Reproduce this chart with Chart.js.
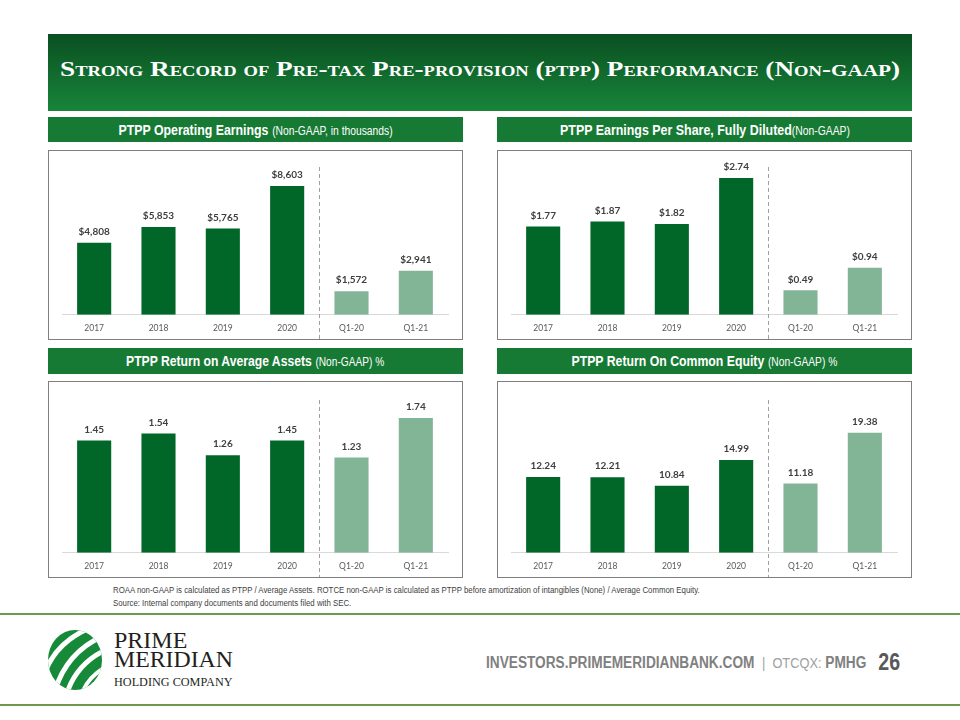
<!DOCTYPE html>
<html>
<head>
<meta charset="utf-8">
<script src="https://cdn.jsdelivr.net/npm/chart.js@4.4.0/dist/chart.umd.min.js"></script>
<style>
  body { margin: 0; width: 960px; height: 720px; background: #fff; position: relative; overflow: hidden; font-family: "Liberation Sans", Arial, sans-serif; }
  .abs { position: absolute; }
  .fit { display: inline-block; white-space: nowrap; }
  #title { left: 48px; top: 34px; width: 864px; height: 77px; background: linear-gradient(#0a4f21, #18853a); }
  #ttl { position: absolute; left: 12px; top: 22px; color: #fff; font-family: "Liberation Serif", serif; font-weight: bold; font-size: 22px; font-variant: small-caps; transform-origin: left center; }
  .sm { font-size: 0.78em; }
  .head { background: #177a34; color: #fff; text-align: center; white-space: nowrap; }
  .head .fit { transform-origin: center center; }
  .head b { font-size: 15px; }
  .head span span { font-size: 12.5px; }
  .box { border: 1px solid #7f7f7f; }
  .box div { position: relative; width: 100%; height: 100%; }
  #note { left: 113px; top: 584px; font-size: 8.5px; color: #404040; line-height: 13px; transform-origin: left top; }
  .rule { left: 0; width: 960px; height: 2px; background: #6b9a4c; }
  #foot { right: 60px; top: 649px; font-size: 16px; color: #808080; transform-origin: right center; }
  #foot b { font-weight: bold; }
  #foot .b { color: #a0a0a0; font-size: 15px; }
  #foot .n { font-size: 23px; font-weight: bold; color: #595959; margin-left: 14px; vertical-align: -2px; }
  .lg { left: 114px; font-family: "Liberation Serif", serif; color: #231f20; line-height: 1; transform-origin: left center; }
</style>
</head>
<body>
<div id="title" class="abs"><span class="fit" id="ttl">Strong Record of Pre-tax Pre-provision (ptpp) Performance (Non-<span class="sm">GAAP</span>)</span></div>

<div class="abs head" style="left:48px;top:117px;width:415px;height:25px;line-height:25px;"><span class="fit" data-w="274"><b>PTPP Operating Earnings</b> <span>(Non-GAAP, in thousands)</span></span></div>
<div class="abs head" style="left:497px;top:117px;width:415px;height:25px;line-height:25px;"><span class="fit" data-w="290"><b>PTPP Earnings Per Share, Fully Diluted</b><span>(Non-GAAP)</span></span></div>
<div class="abs head" style="left:48px;top:348px;width:415px;height:26px;line-height:26px;"><span class="fit" data-w="258"><b>PTPP Return on Average Assets</b> <span>(Non-GAAP) %</span></span></div>
<div class="abs head" style="left:497px;top:348px;width:415px;height:26px;line-height:26px;"><span class="fit" data-w="266"><b>PTPP Return On Common Equity</b> <span>(Non-GAAP) %</span></span></div>

<div class="abs box" style="left:48px;top:150px;width:413px;height:188px;"><div><canvas id="c1"></canvas></div></div>
<div class="abs box" style="left:497px;top:150px;width:413px;height:188px;"><div><canvas id="c2"></canvas></div></div>
<div class="abs box" style="left:48px;top:381px;width:413px;height:195px;"><div><canvas id="c3"></canvas></div></div>
<div class="abs box" style="left:497px;top:381px;width:413px;height:195px;"><div><canvas id="c4"></canvas></div></div>

<div id="note" class="abs fit">ROAA non-GAAP is calculated as PTPP / Average Assets. ROTCE non-GAAP is calculated as PTPP before amortization of intangibles (None) / Average Common Equity.<br>Source: Internal company documents and documents filed with SEC.</div>

<div class="abs rule" style="top:613px;"></div>
<div class="abs rule" style="top:704px;"></div>

<svg class="abs" style="left:44px;top:628px;" width="62" height="64" viewBox="0 0 62 64">
  <defs><clipPath id="globe"><ellipse cx="31" cy="32" rx="27" ry="30"/></clipPath></defs>
  <g clip-path="url(#globe)">
    <rect x="0" y="0" width="62" height="64" fill="#178a3a"/>
    <path d="M10 66 Q22 22 64 6" stroke="#fff" stroke-width="5" fill="none"/>
    <path d="M22 68 Q32 34 66 20" stroke="#fff" stroke-width="5" fill="none"/>
    <path d="M-2 54 Q8 12 56 -4" stroke="#fff" stroke-width="5" fill="none"/>
    <path d="M36 70 Q44 46 68 36" stroke="#fff" stroke-width="4" fill="none"/>
  </g>
</svg>
<div class="abs lg fit" data-w="73" style="top:629px;font-size:23px;">PRIME</div>
<div class="abs lg fit" data-w="119" style="top:648px;font-size:23px;">MERIDIAN</div>
<div class="abs lg fit" data-w="119" style="top:676px;font-size:12px;">HOLDING COMPANY</div>

<div id="foot" class="abs fit"><b>INVESTORS.PRIMEMERIDIANBANK.COM</b>&nbsp; <span class="b">|&nbsp; OTCQX:</span> <b>PMHG</b><span class="n">26</span></div>

<script>
// chart data
const categories = ['2017', '2018', '2019', '2020', 'Q1-20', 'Q1-21'];
const operatingEarnings = [4808, 5853, 5765, 8603, 1572, 2941];
const earningsPerShare = [1.77, 1.87, 1.82, 2.74, 0.49, 0.94];
const returnOnAssets = [1.45, 1.54, 1.26, 1.45, 1.23, 1.74];
const returnOnEquity = [12.24, 12.21, 10.84, 14.99, 11.18, 19.38];

const DARK = '#006729';
const LIGHT = '#82b596';

// squeeze text blocks to the widths used on the slide
function fitWidth(el, w) {
    el.style.transform = 'scaleX(' + (w / el.offsetWidth) + ')';
}
fitWidth(document.getElementById('ttl'), 840);
fitWidth(document.getElementById('note'), 587);
fitWidth(document.getElementById('foot'), 414);
document.querySelectorAll('.head .fit, .lg').forEach(el => fitWidth(el, +el.dataset.w));

function makeChart(id, values, yMax, fmt, topPad) {
    const ctx = document.getElementById(id).getContext('2d');

    const valueLabels = {
        id: 'valueLabels',
        afterDatasetsDraw(chart) {
            const c = chart.ctx;
            const meta = chart.getDatasetMeta(0);
            c.save();
            c.font = 'bold 10px Lato';
            c.fillStyle = '#3f3f3f';
            c.textAlign = 'center';
            c.textBaseline = 'middle';
            meta.data.forEach(function (bar, i) {
                c.fillText(fmt(values[i]), bar.x, bar.y - 11);
            });
            c.restore();
        }
    };

    // dashed line between the years and the quarters
    const separator = {
        id: 'separator',
        afterDraw(chart) {
            const c = chart.ctx;
            const x = chart.scales.x;
            const px = Math.round((x.getPixelForValue(3) + x.getPixelForValue(4)) / 2) + 0.5;
            c.save();
            c.strokeStyle = '#a0a0a0';
            c.lineWidth = 1;
            c.setLineDash([4, 3]);
            c.beginPath();
            c.moveTo(px, chart.chartArea.top + 2);
            c.lineTo(px, chart.height);
            c.stroke();
            c.restore();
        }
    };

    return new Chart(ctx, {
        type: 'bar',
        data: {
            labels: categories,
            datasets: [{
                data: values,
                backgroundColor: values.map((v, i) => i < 4 ? DARK : LIGHT),
                barPercentage: 0.53,
                categoryPercentage: 1
            }]
        },
        options: {
            responsive: true,
            maintainAspectRatio: false,
            animation: false,
            layout: { padding: { left: 13, right: 14, top: topPad, bottom: -2 } },
            plugins: { legend: { display: false }, tooltip: { enabled: false } },
            scales: {
                x: {
                    grid: { display: false, drawTicks: false },
                    border: { display: true, color: '#d9d9d9', width: 1 },
                    ticks: { color: '#595959', padding: 8, font: { family: 'Lato', size: 8.5 } }
                },
                y: { display: false, min: 0, max: yMax }
            }
        },
        plugins: [valueLabels, separator]
    });
}

makeChart('c1', operatingEarnings, 10000, v => '$' + v.toLocaleString('en-US'), 14);
makeChart('c2', earningsPerShare, 3, v => '$' + v.toFixed(2), 14);
makeChart('c3', returnOnAssets, 2, v => v.toFixed(2), 16);
makeChart('c4', returnOnEquity, 25, v => v.toFixed(2), 16);
</script>
</body>
</html>
